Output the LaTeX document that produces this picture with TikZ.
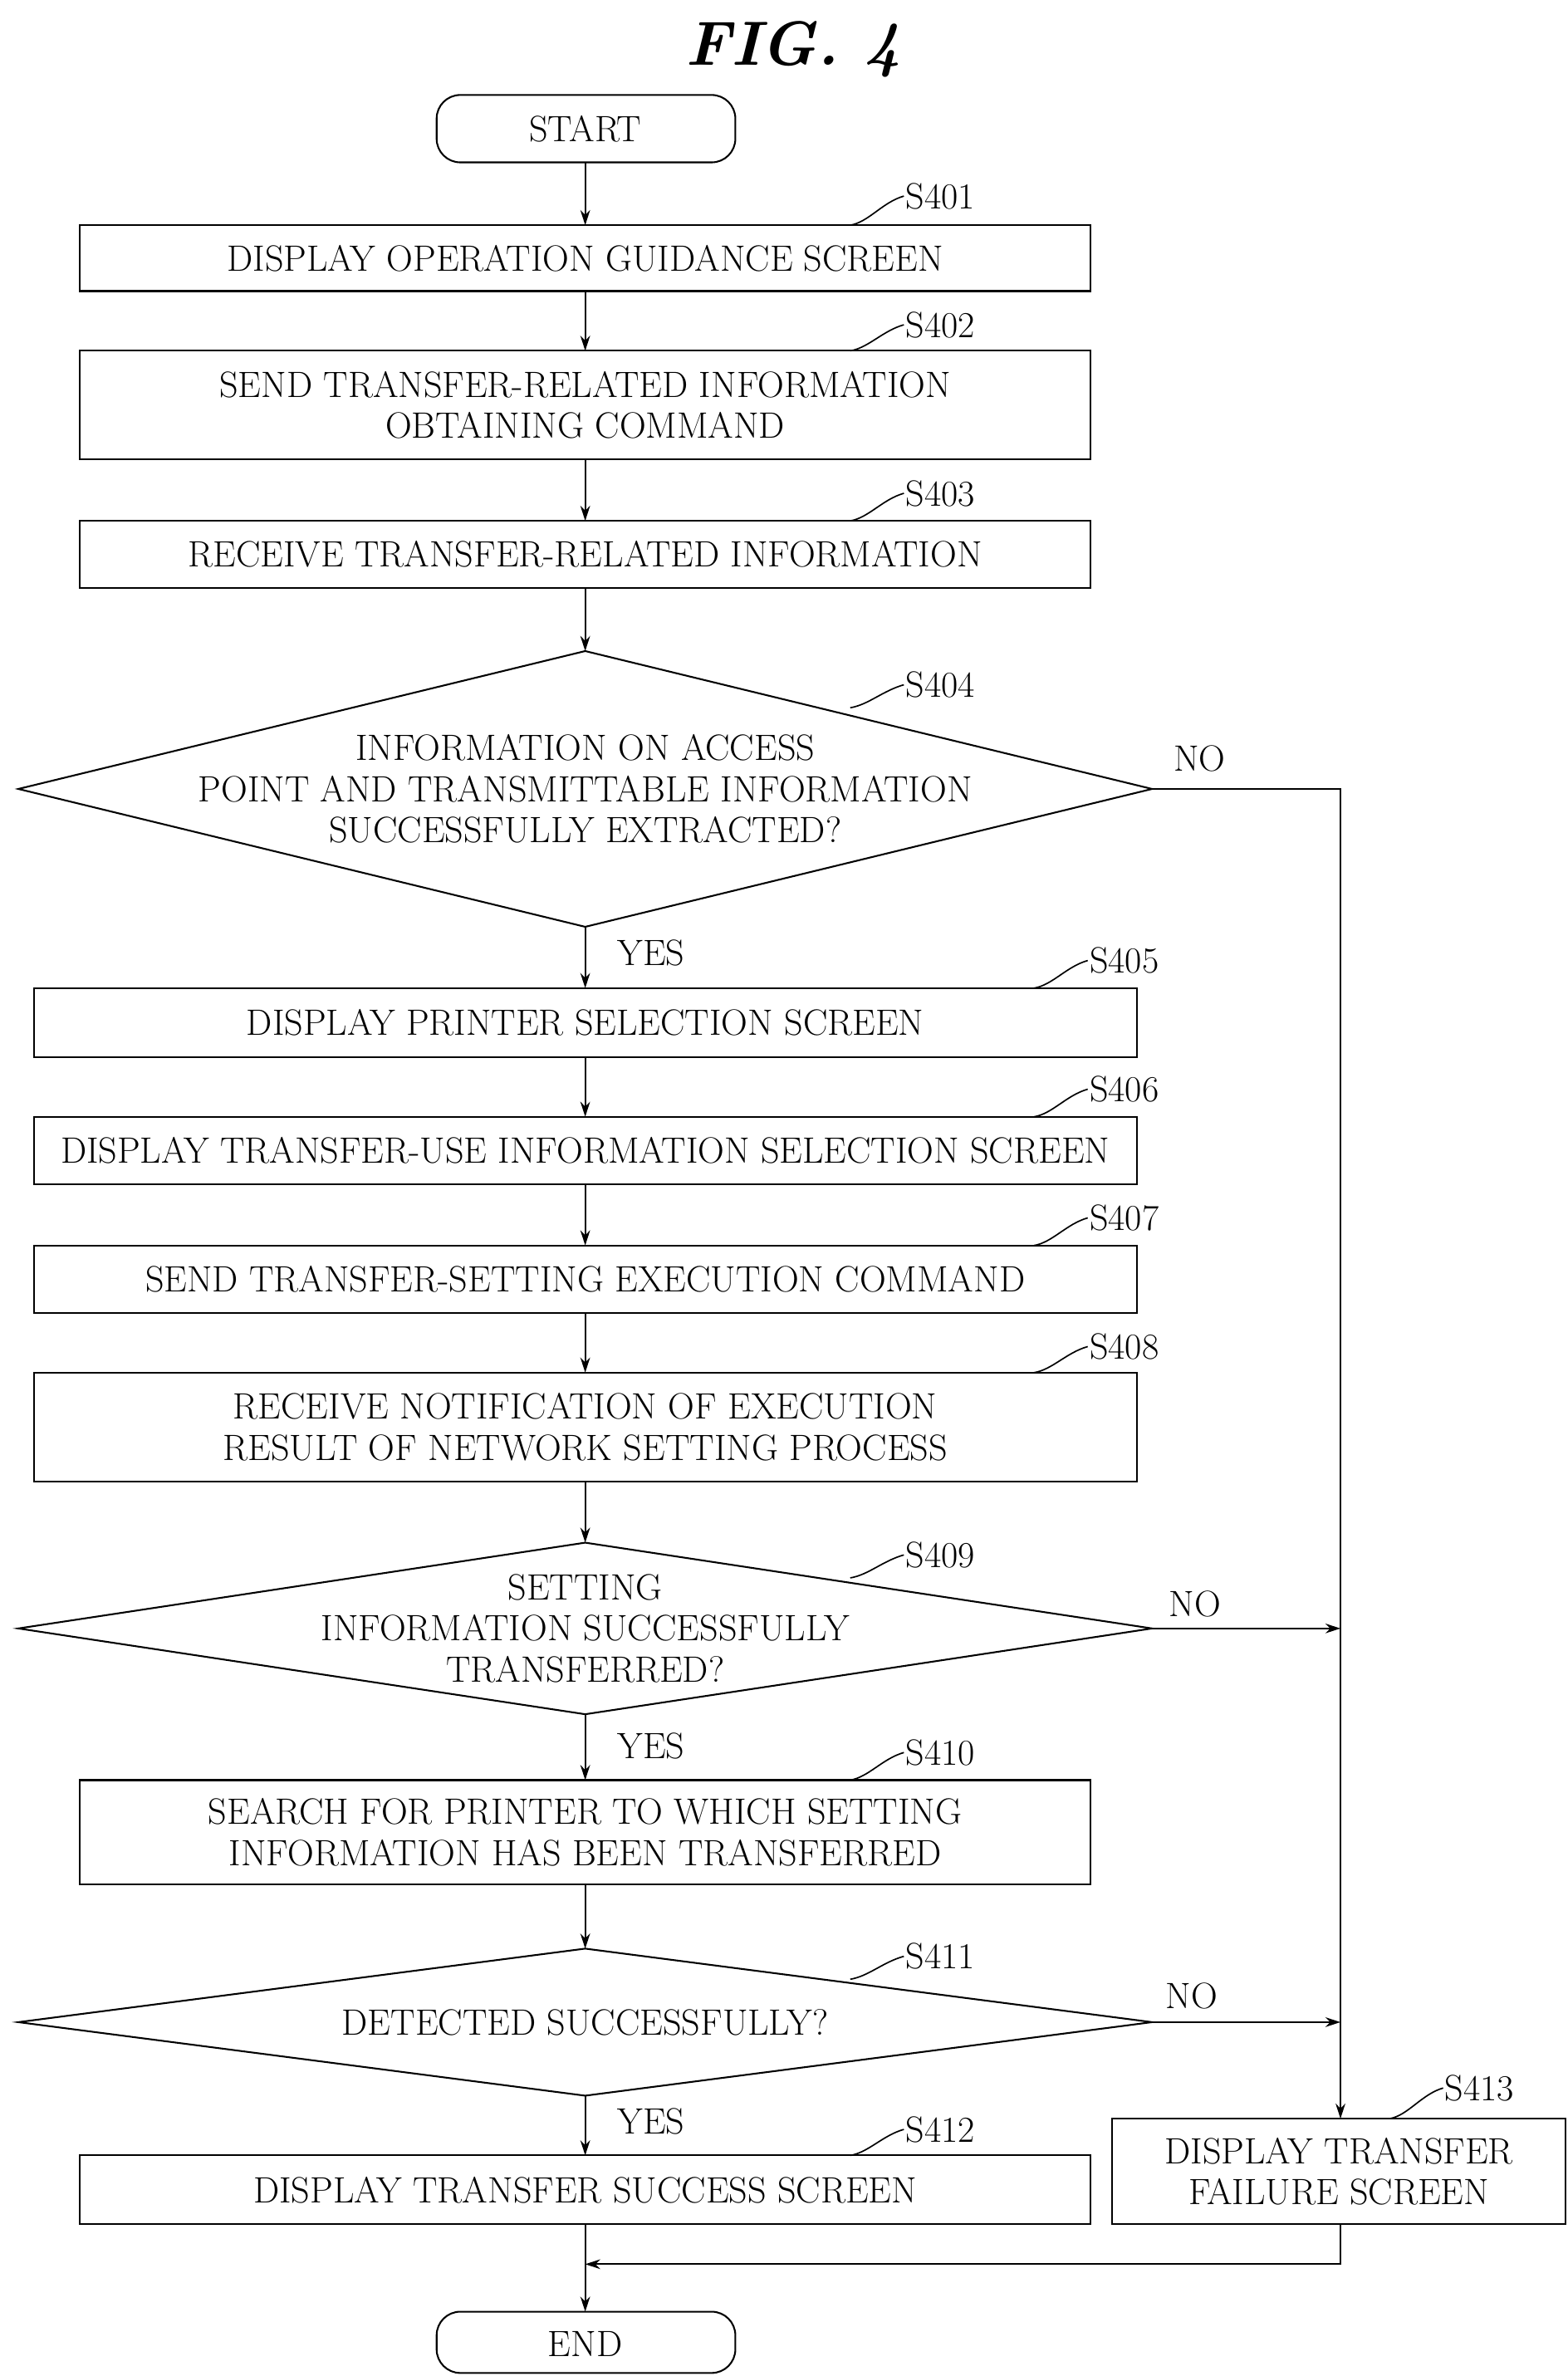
\documentclass[tikz,border=0pt]{standalone}
\usetikzlibrary{arrows.meta,shapes.geometric}
\begin{document}
\begin{tikzpicture}[x=0.5mm,y=-0.5mm,line width=1.6pt,
  txt/.style={font=\fontsize{34}{38}\selectfont,align=center},
  box/.style={draw},
  arr/.style={-{Stealth[length=14pt,width=9pt]}},
  lab/.style={txt,anchor=west,inner sep=1pt}]
\useasboundingbox (0,0) rectangle (1023,1551);
\node[font=\bfseries\itshape\fontsize{58}{60}\selectfont] (title) at (518,32) {FIG. 4};
% terminals
\draw[rounded corners=22] (285,62) rectangle (480,106);
\node[txt] (start) at (382,84) {START};
\draw[rounded corners=22] (285,1509) rectangle (480,1549);
\node[txt] (end) at (382,1530) {END};
% boxes
\draw[box] (52,147) rectangle (712,190); \node[txt] (s401) at (382,168.5) {DISPLAY OPERATION GUIDANCE SCREEN};
\draw[box] (52,229) rectangle (712,300); \node[txt] (s402) at (382,264.5) {SEND TRANSFER-RELATED INFORMATION\\OBTAINING COMMAND};
\draw[box] (52,340) rectangle (712,384); \node[txt] (s403) at (382,362) {RECEIVE TRANSFER-RELATED INFORMATION};
\draw (12,515) -- (382,425) -- (752,515) -- (382,605) -- cycle;
\node[txt] (s404) at (382,515) {INFORMATION ON ACCESS\\POINT AND TRANSMITTABLE INFORMATION\\SUCCESSFULLY EXTRACTED?};
\draw[box] (22,645) rectangle (742,690); \node[txt] (s405) at (382,667.5) {DISPLAY PRINTER SELECTION SCREEN};
\draw[box] (22,729) rectangle (742,773); \node[txt] (s406) at (382,751) {DISPLAY TRANSFER-USE INFORMATION SELECTION SCREEN};
\draw[box] (22,813) rectangle (742,857); \node[txt] (s407) at (382,835) {SEND TRANSFER-SETTING EXECUTION COMMAND};
\draw[box] (22,896) rectangle (742,967); \node[txt] (s408) at (382,931.5) {RECEIVE NOTIFICATION OF EXECUTION\\RESULT OF NETWORK SETTING PROCESS};
\draw (12,1063) -- (382,1007) -- (752,1063) -- (382,1119) -- cycle;
\node[txt] (s409) at (382,1063) {SETTING\\INFORMATION SUCCESSFULLY\\TRANSFERRED?};
\draw[box] (52,1162) rectangle (712,1230); \node[txt] (s410) at (382,1196) {SEARCH FOR PRINTER TO WHICH SETTING\\INFORMATION HAS BEEN TRANSFERRED};
\draw (12,1320) -- (382,1272) -- (752,1320) -- (382,1368) -- cycle;
\node[txt] (s411) at (382,1320) {DETECTED SUCCESSFULLY?};
\draw[box] (52,1407) rectangle (712,1452); \node[txt] (s412) at (382,1429.5) {DISPLAY TRANSFER SUCCESS SCREEN};
\draw[box] (726,1383) rectangle (1022,1452); \node[txt] (s413) at (874,1417.5) {DISPLAY TRANSFER\\FAILURE SCREEN};
% step labels
\foreach \n/\x/\y/\bx/\by in {S401/590/128/555/147, S402/590/212/555/229, S403/590/322/555/340, S404/590/447/555/462,
  S405/710/627/675/645, S406/710/711/675/729, S407/710/795/675/813, S408/710/879/675/896,
  S409/590/1015/555/1030, S410/590/1144/555/1162, S411/590/1277/555/1292, S412/590/1390/555/1407, S413/942/1363/907/1383}{
  \node[lab] (l\n) at (\x,\y) {\n};
  \draw[line width=1.3pt] (\bx,\by) .. controls (\bx+12,\by-2) and (\x-14,\y+4) .. (\x,\y);
}
% connectors
\draw[arr] (382,106) -- (382,147);
\draw[arr] (382,190) -- (382,229);
\draw[arr] (382,300) -- (382,340);
\draw[arr] (382,384) -- (382,425);
\draw[arr] (382,605) -- (382,645);
\draw[arr] (382,690) -- (382,729);
\draw[arr] (382,773) -- (382,813);
\draw[arr] (382,857) -- (382,896);
\draw[arr] (382,967) -- (382,1007);
\draw[arr] (382,1119) -- (382,1162);
\draw[arr] (382,1230) -- (382,1272);
\draw[arr] (382,1368) -- (382,1407);
\draw[arr] (382,1452) -- (382,1509);
\draw[arr] (752,515) -- (875,515) -- (875,1383);
\draw[arr] (752,1063) -- (875,1063);
\draw[arr] (752,1320) -- (875,1320);
\draw[arr] (875,1452) -- (875,1478) -- (382,1478);
% yes/no
\node[txt] (no1) at (783,495) {NO};
\node[txt] (no2) at (780,1047) {NO};
\node[txt] (no3) at (778,1303) {NO};
\node[txt] (y1) at (425,622) {YES};
\node[txt] (y2) at (425,1140) {YES};
\node[txt] (y3) at (425,1385) {YES};
\end{tikzpicture}
\end{document}
